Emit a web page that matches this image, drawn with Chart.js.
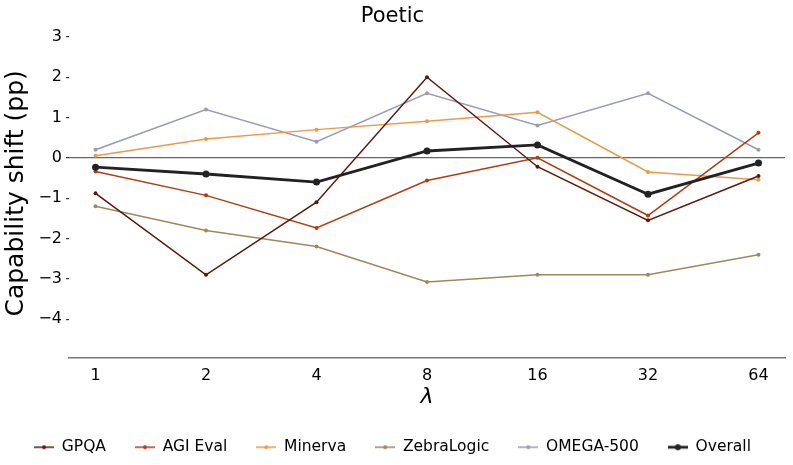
<!DOCTYPE html>
<html>
<head>
<meta charset="utf-8">
<script src="https://cdn.jsdelivr.net/npm/chart.js@4"></script>
<style>
  html, body { margin: 0; padding: 0; background: #fff; }
  #wrap { width: 793px; height: 465px; }
</style>
</head>
<body>
<div id="wrap"><canvas id="chart" width="793" height="465"></canvas></div>
<script>
const lambdas = ['1', '2', '4', '8', '16', '32', '64'];
const yTicks = [3, 2, 1, 0, -1, -2, -3, -4];

const gpqa = [-0.88, -2.9, -1.1, 2.0, -0.22, -1.55, -0.45];
const agiEval = [-0.34, -0.93, -1.74, -0.56, 0.0, -1.43, 0.62];
const minerva = [0.05, 0.47, 0.7, 0.91, 1.13, -0.35, -0.54];
const zebraLogic = [-1.2, -1.8, -2.2, -3.08, -2.9, -2.9, -2.4];
const omega500 = [0.2, 1.2, 0.4, 1.6, 0.8, 1.6, 0.2];
const overall = [-0.23, -0.4, -0.6, 0.17, 0.32, -0.9, -0.13];

const seriesNames = ['GPQA', 'AGI Eval', 'Minerva', 'ZebraLogic', 'OMEGA-500', 'Overall'];
const seriesData = [gpqa, agiEval, minerva, zebraLogic, omega500, overall];
const seriesColors = ['#5c1a0f', '#b03d14', '#e99a4c', '#9d8a5b', '#999cb9', '#222222'];

const FONT = "'DejaVu Sans', sans-serif";

// little line+dot glyph for the legend, like matplotlib
function legendGlyph(color, bold) {
  const c = document.createElement('canvas');
  c.width = 20; c.height = 10;
  const g = c.getContext('2d');
  g.strokeStyle = color;
  g.lineWidth = bold ? 2.8 : 1.5;
  g.beginPath(); g.moveTo(0, 5); g.lineTo(20, 5); g.stroke();
  g.fillStyle = color;
  g.beginPath(); g.arc(10, 5, bold ? 3 : 2, 0, Math.PI * 2); g.fill();
  return c;
}

const datasets = seriesNames.map((name, i) => {
  const bold = name === 'Overall';
  return {
    label: name,
    data: seriesData[i].map((v, k) => ({ x: k, y: v })),
    borderColor: seriesColors[i],
    backgroundColor: seriesColors[i],
    borderWidth: bold ? 2.8 : 1.5,
    pointRadius: bold ? 3.5 : 2,
    pointBorderWidth: 0,
    pointStyle: 'circle',
    tension: 0,
    order: bold ? 0 : 1,
    legendGlyph: legendGlyph(seriesColors[i], bold),
  };
});

new Chart(document.getElementById('chart'), {
  type: 'line',
  data: { datasets },
  options: {
    responsive: false,
    animation: false,
    layout: { padding: { left: 0, right: 8, top: 0, bottom: 0 } },
    plugins: {
      title: {
        display: true,
        text: 'Poetic',
        color: '#000',
        font: { family: FONT, size: 21, weight: 'normal' },
        padding: { top: 4, bottom: 0 },
      },
      legend: {
        position: 'bottom',
        labels: {
          color: '#000',
          font: { family: FONT, size: 15.5 },
          usePointStyle: true,
          pointStyleWidth: 20,
          padding: 29,
          generateLabels(chart) {
            return chart.data.datasets.map((ds, i) => ({
              text: ds.label,
              pointStyle: ds.legendGlyph,
              datasetIndex: i,
              fontColor: '#000',
              lineWidth: 0,
              strokeStyle: 'transparent',
              fillStyle: 'transparent',
            }));
          },
        },
      },
      tooltip: { enabled: false },
    },
    scales: {
      x: {
        type: 'linear',
        min: -0.24,
        max: 6.24,
        afterBuildTicks(scale) {
          scale.ticks = lambdas.map((l, k) => ({ value: k }));
        },
        ticks: {
          color: '#000',
          font: { family: FONT, size: 16, lineHeight: 1 },
          padding: 10,
          callback: (v) => lambdas[v],
        },
        grid: { display: false, drawTicks: false },
        border: { display: true, color: '#777', width: 1.5 },
        title: {
          display: true,
          text: 'λ',
          color: '#000',
          font: { family: FONT, size: 22, style: 'italic', lineHeight: 1 },
          padding: { top: -7, bottom: 2 },
        },
      },
      y: {
        min: -4.95,
        max: 3.19,
        afterBuildTicks(scale) {
          scale.ticks = yTicks.map((v) => ({ value: v }));
        },
        afterFit(scale) { scale.width = 69; },
        ticks: {
          color: '#000',
          font: { family: FONT, size: 16 },
          padding: 4,
          callback: (v) => (v < 0 ? '\u2212' + Math.abs(v) : String(v)),
        },
        grid: {
          color: (ctx) => (ctx.tick && ctx.tick.value === 0 ? '#666' : 'transparent'),
          tickColor: '#333',
          tickLength: 3,
          lineWidth: 1.2,
        },
        border: { display: false },
        title: {
          display: true,
          text: 'Capability shift (pp)',
          color: '#000',
          font: { family: FONT, size: 25 },
          padding: { top: 1, bottom: 0 },
        },
      },
    },
  },
});
</script>
</body>
</html>
